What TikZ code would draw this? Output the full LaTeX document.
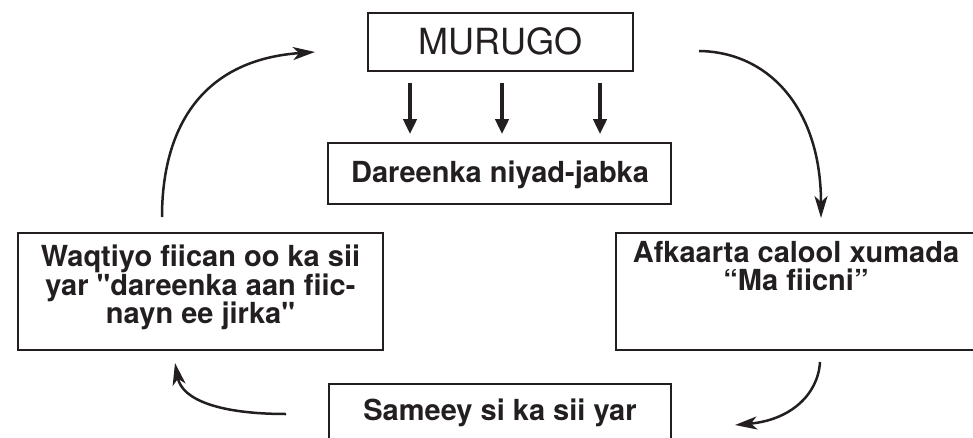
\documentclass[tikz,border=0pt]{standalone}
\usepackage{fontspec}
\newfontfamily\hv{TeX Gyre Heros}[Ligatures=NoCommon]
\usetikzlibrary{arrows.meta}
\definecolor{ink}{HTML}{231F20}
\begin{document}
\begin{tikzpicture}[x=1pt,y=-1pt,
  box/.style={draw=ink, line width=1.6pt, inner sep=0pt, fill=none},
  btxt/.style={font=\hv\fontsize{29}{28.5}\selectfont\bfseries, align=center, text=ink, inner sep=0pt},
  rtxt/.style={font=\hv\fontsize{36}{40}\selectfont, text=ink, inner sep=0pt},
  curv/.style={draw=ink, line width=2.5pt, -{Stealth[length=22pt,width=13pt,inset=6pt]}},
  darr/.style={draw=ink, line width=4pt, -{Triangle[length=15pt,width=13pt]}, shorten <=11pt, shorten >=8pt}]
\useasboundingbox (0,0) rectangle (973,438);
\clip (0,0) rectangle (973,438);
% boxes
\node[box, minimum width=265pt, minimum height=58pt] (murugo) at (500.5,42) {};
\node[box, minimum width=343pt, minimum height=61pt] (dareen) at (499.5,173.5) {};
\node[box, minimum width=365pt, minimum height=117pt] (left) at (200.5,291.5) {};
\node[box, minimum width=362pt, minimum height=117pt] (right) at (797,291.5) {};
\node[box, minimum width=342pt, minimum height=100pt] (bottom) at (500,434) {};
% texts
\node[rtxt, anchor=base] (tmurugo) at (500.5,55) {MURUGO};
\node[btxt, anchor=base] (tdareen) at (500,183) {Dareenka niyad-jabka};
\node[btxt, anchor=north] (tleft) at (200.5,245) {Waqtiyo fiican oo ka sii\\yar "dareenka aan fiic-\\nayn ee jirka"};
\node[btxt, anchor=north] (tright) at (796,241) {Afkaarta calool xumada\\“Ma fiicni”};
\node[btxt, anchor=base] (tbottom) at (500,420) {Sameey si ka sii yar};
% down arrows
\draw[darr] ([xshift=-90.5pt]murugo.south) -- ([xshift=-90.5pt]murugo.south |- dareen.north);
\draw[darr] ([xshift=1.5pt]murugo.south) -- ([xshift=1.5pt]murugo.south |- dareen.north);
\draw[darr] ([xshift=99.5pt]murugo.south) -- ([xshift=99.5pt]murugo.south |- dareen.north);
% cycle arrows
\coordinate (a1s) at (162,217);
\coordinate (a1e) at (315,52);
\coordinate (a2s) at (699,51);
\coordinate (a2e) at (821,218);
\coordinate (a3s) at (820,362);
\coordinate (a3e) at (735,425);
\coordinate (a4s) at (286,414);
\coordinate (a4e) at (175,363);
\draw[curv] (a1s) .. controls (162,130) and (200,60) .. (a1e);
\draw[curv] (a2s) .. controls (770,52) and (821,110) .. (a2e);
\draw[curv] (a3s) .. controls (818,395) and (790,420) .. (a3e);
\draw[curv] (a4s) .. controls (220,414) and (182,400) .. (a4e);
\end{tikzpicture}
\end{document}
